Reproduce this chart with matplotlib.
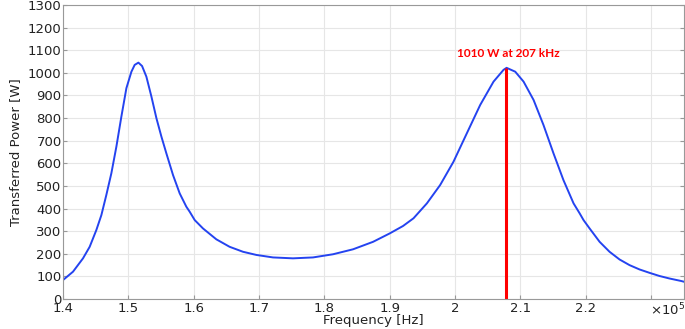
import matplotlib
matplotlib.use("Agg")
import matplotlib.pyplot as plt

# frequency in units of 1e5 Hz, transferred power in W
freq = [1.4000, 1.4153, 1.4306, 1.4408, 1.4510, 1.4587, 1.4663, 1.4740, 1.4817,
        1.4893, 1.4970, 1.5047, 1.5097, 1.5154, 1.5210, 1.5276, 1.5353, 1.5430,
        1.5506, 1.5582, 1.5684, 1.5786, 1.5888, 1.5939, 1.6016, 1.6143, 1.6347,
        1.6550, 1.6755, 1.6960, 1.7214, 1.7520, 1.7827, 1.8133, 1.8440, 1.8746,
        1.9000, 1.9205, 1.9365, 1.9570, 1.9773, 1.9977, 2.0182, 2.0386, 2.0590,
        2.0743, 2.0790, 2.0922, 2.1050, 2.1203, 2.1355, 2.1508, 2.1660, 2.1815,
        2.1908, 2.1968, 2.2061, 2.2214, 2.2366, 2.2519, 2.2672, 2.2824, 2.2977,
        2.3130, 2.3282, 2.3460, 2.3500]
power = [84, 121, 180, 231, 305, 371, 460, 556, 674,
         806, 932, 1005, 1035, 1045, 1030, 983, 895, 799,
         718, 644, 548, 467, 408, 386, 349, 312, 264,
         231, 209, 195, 184, 180, 184, 198, 220, 253,
         290, 323, 357, 423, 504, 607, 733, 858, 961,
         1013, 1022, 1005, 961, 880, 769, 644, 526, 423,
         379, 349, 312, 253, 209, 175, 150, 131, 116,
         102, 91, 80, 77]

peak_freq = 2.078
peak_power = 1020
peak_label = "1010 W at 207 kHz"

xticks = [1.4, 1.5, 1.6, 1.7, 1.8, 1.9, 2.0, 2.1, 2.2, 2.3]
xticklabels = ["1.4", "1.5", "1.6", "1.7", "1.8", "1.9", "2", "2.1", "2.2", ""]
yticks = list(range(0, 1301, 100))


def main():
    fig = plt.figure(figsize=(6.85, 3.29), dpi=100)
    ax = fig.add_axes([0.092, 0.091, 0.906, 0.894])

    ax.plot([f * 1e5 for f in freq], power, color="#2443f0", linewidth=1.4)
    ax.vlines(peak_freq * 1e5, 0, peak_power, color="#ff0000", linewidth=2.2)
    ax.text(peak_freq * 1e5 + 0.004e5, 1087, peak_label, color="#ff0000",
            fontsize=8.5, fontweight="bold",
            family=["Liberation Sans Narrow", "Lato", "DejaVu Sans"],
            ha="center", va="center")

    ax.set_xlim(1.4e5, 2.35e5)
    ax.set_ylim(0, 1300)
    ax.set_xticks([t * 1e5 for t in xticks])
    ax.set_xticklabels(xticklabels)
    ax.set_yticks(yticks)
    ax.text(2.325e5, -0.01, r"$\times10^5$", transform=ax.get_xaxis_transform(),
            ha="center", va="top", fontsize=9.5, color="#222222")

    ax.tick_params(direction="in", length=3, color="#999999", labelsize=9.5,
                   labelcolor="#222222", right=True, top=False, pad=1)
    ax.tick_params(axis="x", pad=2.2)
    ax.grid(color="#e6e6e6", linewidth=0.8)
    ax.set_axisbelow(True)
    for s in ax.spines.values():
        s.set_color("#999999")

    ax.set_xlabel("Frequency [Hz]", fontsize=9.5, color="#222222", labelpad=-0.5)
    ax.set_ylabel("Transferred Power [W]", fontsize=9.5, color="#222222", labelpad=4)

    plt.savefig("out.png", dpi=100)


if __name__ == "__main__":
    main()
